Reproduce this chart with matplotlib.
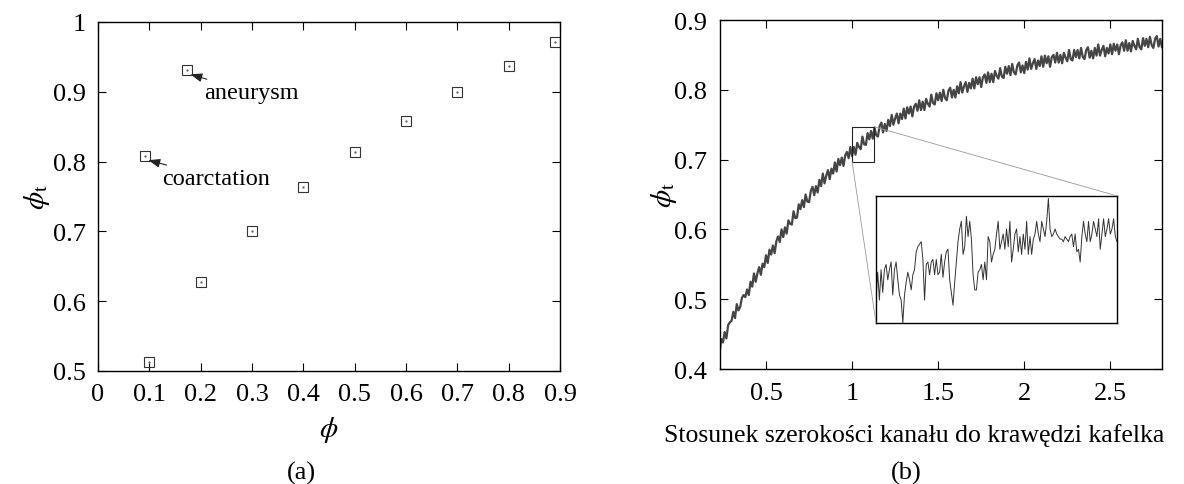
import numpy as np
import matplotlib
matplotlib.use("Agg")
import matplotlib.pyplot as plt
from matplotlib.patches import Rectangle, ConnectionPatch

plt.rcParams['font.family'] = ['Liberation Serif', 'DejaVu Serif']
plt.rcParams['mathtext.fontset'] = 'stix'
plt.rcParams['font.size'] = 19

# (a) porowatosc vs porowatosc progowa
phi = [0.1, 0.2, 0.3, 0.4, 0.5, 0.6, 0.7, 0.8, 0.89]
phi_t = [0.513, 0.627, 0.700, 0.764, 0.814, 0.858, 0.900, 0.937, 0.971]
special_x = [0.174, 0.092]
special_y = [0.931, 0.808]
special_lbl = ["aneurysm", "coarctation"]

# (b) krzywa phi_t od stosunku szerokosci kanalu (odczyt co 0.01 od 0.23 do 2.80)
x_start, x_stop = 0.23, 2.80
curve = [
    0.422, 0.443, 0.438, 0.453, 0.444, 0.463, 0.467, 0.469,
    0.482, 0.473, 0.493, 0.484, 0.489, 0.502, 0.506, 0.503, 0.514, 0.506,
    0.525, 0.518, 0.537, 0.525, 0.537, 0.546, 0.535, 0.551, 0.546, 0.563,
    0.552, 0.571, 0.564, 0.577, 0.566, 0.583, 0.590, 0.582, 0.600, 0.589,
    0.603, 0.594, 0.613, 0.608, 0.607, 0.626, 0.616, 0.617, 0.636, 0.629,
    0.642, 0.632, 0.650, 0.640, 0.639, 0.655, 0.661, 0.649, 0.662, 0.653,
    0.671, 0.662, 0.680, 0.666, 0.677, 0.685, 0.672, 0.687, 0.680, 0.696,
    0.683, 0.701, 0.692, 0.703, 0.691, 0.706, 0.711, 0.702, 0.718, 0.705,
    0.718, 0.707, 0.724, 0.718, 0.715, 0.733, 0.722, 0.721, 0.738, 0.729,
    0.741, 0.730, 0.746, 0.735, 0.733, 0.748, 0.753, 0.739, 0.751, 0.741,
    0.757, 0.748, 0.764, 0.750, 0.759, 0.766, 0.752, 0.766, 0.758, 0.773,
    0.759, 0.775, 0.766, 0.776, 0.762, 0.776, 0.780, 0.770, 0.785, 0.771,
    0.783, 0.771, 0.787, 0.780, 0.776, 0.793, 0.781, 0.779, 0.795, 0.785,
    0.796, 0.784, 0.800, 0.788, 0.785, 0.799, 0.803, 0.789, 0.800, 0.789,
    0.805, 0.795, 0.811, 0.796, 0.805, 0.811, 0.797, 0.810, 0.802, 0.816,
    0.802, 0.818, 0.808, 0.818, 0.804, 0.818, 0.822, 0.810, 0.825, 0.811,
    0.823, 0.811, 0.827, 0.820, 0.816, 0.831, 0.819, 0.817, 0.833, 0.823,
    0.834, 0.821, 0.837, 0.825, 0.822, 0.835, 0.839, 0.825, 0.835, 0.824,
    0.840, 0.829, 0.845, 0.830, 0.838, 0.844, 0.830, 0.842, 0.834, 0.848,
    0.833, 0.849, 0.838, 0.848, 0.833, 0.847, 0.850, 0.839, 0.853, 0.839,
    0.850, 0.838, 0.853, 0.846, 0.841, 0.857, 0.844, 0.842, 0.857, 0.847,
    0.857, 0.845, 0.860, 0.847, 0.844, 0.857, 0.861, 0.846, 0.856, 0.845,
    0.860, 0.849, 0.865, 0.849, 0.857, 0.863, 0.848, 0.860, 0.852, 0.865,
    0.851, 0.866, 0.856, 0.865, 0.851, 0.864, 0.868, 0.856, 0.871, 0.856,
    0.867, 0.855, 0.870, 0.863, 0.858, 0.873, 0.861, 0.858, 0.874, 0.863,
    0.873, 0.861, 0.876, 0.864, 0.860, 0.873, 0.877, 0.862, 0.873, 0.861,
]

# powiekszony fragment (wstawka), x od 1.00 do 1.13
zoom_x0, zoom_x1 = 1.0, 1.13
zoom_y0, zoom_y1 = 0.697, 0.747
inset_curve = [
    0.706, 0.717, 0.706, 0.718, 0.709, 0.718, 0.720, 0.714, 0.718, 0.721,
    0.708, 0.718, 0.721, 0.714, 0.708, 0.706, 0.697, 0.708, 0.713, 0.717,
    0.714, 0.710, 0.716, 0.718, 0.725, 0.727, 0.728, 0.729, 0.722, 0.706,
    0.720, 0.721, 0.716, 0.721, 0.722, 0.716, 0.722, 0.716, 0.717, 0.724,
    0.715, 0.721, 0.725, 0.726, 0.714, 0.709, 0.704, 0.713, 0.721, 0.729,
    0.734, 0.737, 0.724, 0.727, 0.739, 0.731, 0.737, 0.730, 0.716, 0.710,
    0.710, 0.717, 0.718, 0.720, 0.714, 0.721, 0.714, 0.731, 0.729, 0.721,
    0.724, 0.726, 0.732, 0.737, 0.726, 0.729, 0.732, 0.726, 0.734, 0.727,
    0.737, 0.721, 0.726, 0.732, 0.734, 0.725, 0.731, 0.724, 0.732, 0.726,
    0.737, 0.724, 0.731, 0.724, 0.730, 0.732, 0.737, 0.732, 0.729, 0.737,
    0.734, 0.731, 0.737, 0.746, 0.734, 0.731, 0.732, 0.734, 0.732, 0.731,
    0.730, 0.730, 0.729, 0.731, 0.730, 0.729, 0.731, 0.732, 0.727, 0.732,
    0.725, 0.726, 0.721, 0.731, 0.737, 0.732, 0.729, 0.737, 0.729, 0.732,
    0.737, 0.734, 0.731, 0.738, 0.726, 0.732, 0.738, 0.731, 0.734, 0.738,
    0.732, 0.734, 0.738, 0.731, 0.729,
]

fig = plt.figure(figsize=(11.84, 4.85), dpi=100)

def style(ax):
    ax.tick_params(direction='in', top=True, right=True, length=6, width=0.8,
                   pad=9, labelsize=19)
    for s in ax.spines.values():
        s.set_linewidth(1.0)

# --- panel (a)
ax1 = fig.add_axes([0.0828, 0.233, 0.3902, 0.7196])
ax1.plot(phi, phi_t, 's', ms=7.5, mfc='none', mec='#333333', mew=0.8)
ax1.plot(special_x, special_y, 's', ms=7.5, mfc='none', mec='#333333', mew=0.8)
ax1.plot(phi + special_x, phi_t + special_y, '.', ms=1.2, color='#555555')
ax1.set_xlim(0, 0.9)
ax1.set_ylim(0.5, 1.0)
ax1.set_xticks(np.arange(0, 0.91, 0.1))
ax1.set_xticklabels(["0", "0.1", "0.2", "0.3", "0.4", "0.5", "0.6", "0.7", "0.8", "0.9"])
ax1.set_yticks([0.5, 0.6, 0.7, 0.8, 0.9, 1.0])
ax1.set_yticklabels(["0.5", "0.6", "0.7", "0.8", "0.9", "1"])
style(ax1)
ax1.set_xlabel(r"$\phi$", fontsize=21, labelpad=6)
ax1.set_ylabel(r"$\phi_{\mathrm{t}}$", fontsize=21)
ax1.yaxis.set_label_coords(-0.10, 0.5)
for sx, sy, lbl in zip(special_x, special_y, special_lbl):
    ax1.annotate(lbl, xy=(sx + 0.006, sy - 0.006), xytext=(sx + 0.033, sy - 0.032),
                 fontsize=17.5, va='center', ha='left',
                 arrowprops=dict(arrowstyle='-|>,head_length=0.4,head_width=0.15',
                                 color='#222222', lw=0.8, shrinkA=0, shrinkB=0))
fig.text(0.255, 0.012, "(a)", ha='center', fontsize=19)

# --- panel (b)
ax2 = fig.add_axes([0.608, 0.237, 0.3734, 0.7197])
xs = np.linspace(x_start, x_stop, len(curve))
ax2.plot(xs, curve, color='#454545', lw=1.6)
ax2.set_xlim(0.232, 2.80)
ax2.set_ylim(0.4, 0.9)
ax2.set_xticks([0.5, 1, 1.5, 2, 2.5])
ax2.set_xticklabels(["0.5", "1", "1.5", "2", "2.5"])
ax2.set_yticks([0.4, 0.5, 0.6, 0.7, 0.8, 0.9])
style(ax2)
ax2.set_xlabel("Stosunek szerokości kanału do krawędzi kafelka", fontsize=18.5)
ax2.xaxis.set_label_coords(0.439, -0.155)
ax2.set_ylabel(r"$\phi_{\mathrm{t}}$", fontsize=21)
ax2.yaxis.set_label_coords(-0.092, 0.5)
fig.text(0.765, 0.012, "(b)", ha='center', fontsize=19)

ax2.add_patch(Rectangle((zoom_x0, zoom_y0), zoom_x1 - zoom_x0, zoom_y1 - zoom_y0,
                        fill=False, ec='#222222', lw=0.8, zorder=3))

axin = fig.add_axes([0.7399, 0.332, 0.2035, 0.262])
xi = np.linspace(zoom_x0, zoom_x1, len(inset_curve))
axin.plot(xi, inset_curve, color='#333333', lw=0.7)
axin.set_xlim(zoom_x0, zoom_x1)
axin.set_ylim(zoom_y0, zoom_y1)
axin.set_xticks([])
axin.set_yticks([])
for s in axin.spines.values():
    s.set_linewidth(1.0)

for (xa, ya), (xb, yb) in [((zoom_x1, zoom_y1), (1, 1)), ((zoom_x0, zoom_y0), (0, 0))]:
    con = ConnectionPatch(xyA=(xa, ya), coordsA=ax2.transData,
                          xyB=(xb, yb), coordsB=axin.transAxes,
                          color='#999999', lw=0.6)
    fig.add_artist(con)

fig.savefig("out.png", dpi=100)
